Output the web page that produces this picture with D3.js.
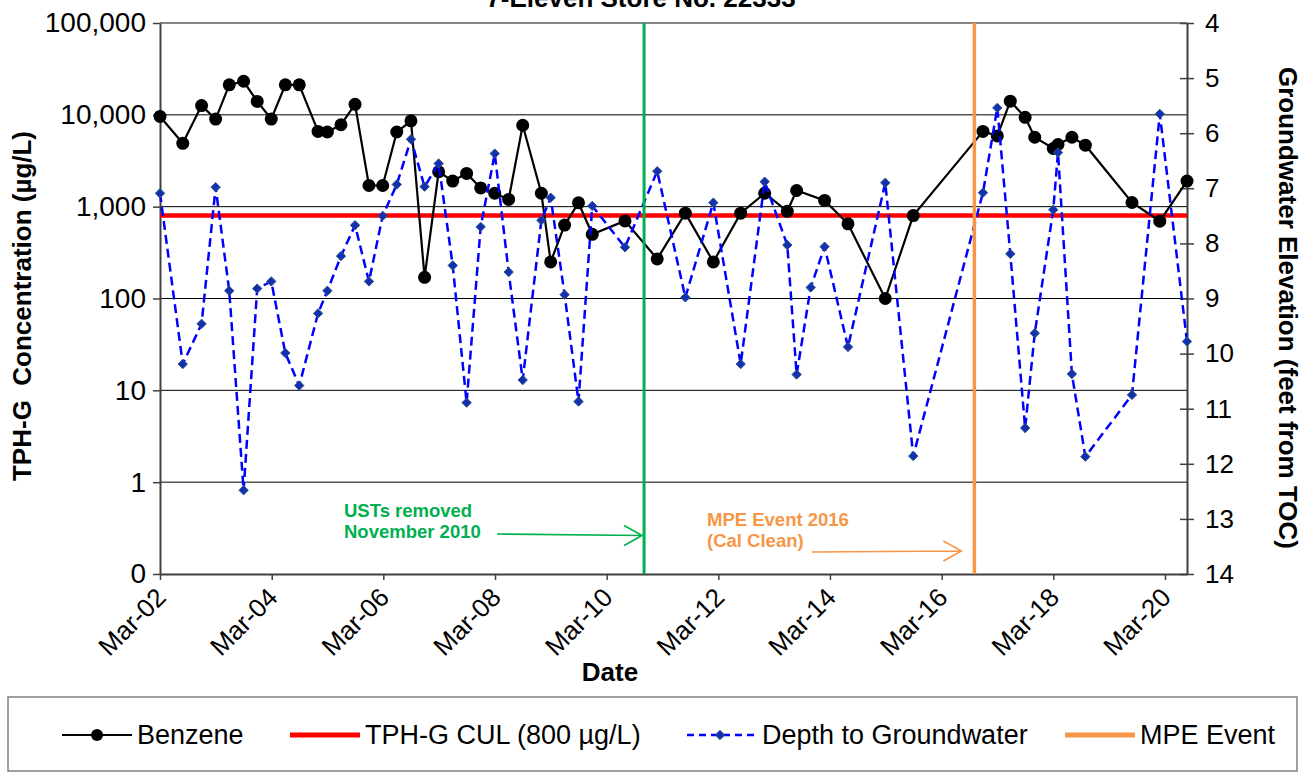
<!DOCTYPE html>
<html>
<head>
<meta charset="utf-8">
<script src="https://cdn.jsdelivr.net/npm/d3@7"></script>
<style>
  html, body { margin: 0; padding: 0; background: #fff; }
  svg { display: block; font-family: "Liberation Sans", Arial, sans-serif; }
</style>
</head>
<body>
<div id="chart"></div>
<script>
// sampling events (shared by both series)
const sampleDates = [
  '2002-03-01', '2002-07-28', '2002-11-28', '2003-02-28', '2003-05-28', '2003-08-30', '2003-11-27', '2004-02-27',
  '2004-05-29', '2004-08-28', '2004-12-29', '2005-02-28', '2005-05-28', '2005-08-28', '2005-11-27', '2006-02-25',
  '2006-05-28', '2006-08-29', '2006-11-26', '2007-02-26', '2007-05-29', '2007-08-28', '2007-11-28', '2008-02-28',
  '2008-05-29', '2008-08-29', '2008-12-29', '2009-02-28', '2009-05-30', '2009-08-29', '2009-11-27', '2010-06-29',
  '2011-01-26', '2011-07-29', '2012-01-28', '2012-07-25', '2012-12-29', '2013-05-26', '2013-07-26', '2013-10-26',
  '2014-01-25', '2014-06-27', '2015-02-26', '2015-08-28', '2016-11-26', '2017-02-28', '2017-05-24', '2017-08-29',
  '2017-10-31', '2018-03-01', '2018-04-01', '2018-07-01', '2018-09-27', '2019-07-29', '2020-01-27', '2020-07-23'
];

// concentration, ug/L (null = not sampled)
const benzene = [
  9600, 4900, 12600, 9000, 21200, 23200, 14000, 9000,
  21200, 21200, 6600, 6500, 7800, 13000, 1700, 1700,
  6500, 8600, 170, 2400, 1900, 2300, 1600, 1400,
  1200, 7700, 1400, 250, 630, 1100, 500, 700,
  270, 850, 250, 850, 1400, 890, 1500, null,
  1170, 650, 100, 800, 6600, 5900, 14100, 9400,
  5700, 4300, 4750, 5700, 4670, 1110, 695, 1900
];

// feet from TOC
const depthToWater = [
  7.09, 10.19, 9.46, 6.98, 8.86, 12.48, 8.82, 8.69,
  9.99, 10.58, 9.27, 8.86, 8.23, 7.67, 8.69, 7.50,
  6.93, 6.11, 6.97, 6.55, 8.40, 10.89, 7.70, 6.37,
  8.52, 10.48, 7.58, 7.17, 8.93, 10.87, 7.32, 8.07,
  6.69, 8.98, 7.26, 10.19, 6.88, 8.03, 10.38, 8.80,
  8.06, 9.88, 6.90, 11.86, 7.08, 5.54, 8.19, 11.35,
  9.63, 7.39, 6.35, 10.37, 11.87, 10.75, 5.65, 9.78
];

const culValue = 800;
const ustsRemovedDate = '2010-11-01';
const mpeEventDate = '2016-10-01';

const concTicks = [0.1, 1, 10, 100, 1000, 10000, 100000];
const depthTicks = [4, 5, 6, 7, 8, 9, 10, 11, 12, 13, 14];
const dateTicks = ['2002-03-01', '2004-03-01', '2006-03-01', '2008-03-01', '2010-03-01',
  '2012-03-01', '2014-03-01', '2016-03-01', '2018-03-01', '2020-03-01'];
const dateRange = ['2002-03-01', '2020-07-23'];

const width = 1303, height = 774;
const plot = { left: 160, right: 1187, top: 23, bottom: 574 };
const parse = d3.utcParse('%Y-%m-%d');

const svg = d3.select('#chart').append('svg')
  .attr('width', width)
  .attr('height', height);

const x = d3.scaleUtc()
  .domain(dateRange.map(parse))
  .range([plot.left, plot.right]);

const y = d3.scaleLog()
  .domain([0.1, 100000])
  .range([plot.bottom, plot.top]);

const y2 = d3.scaleLinear()
  .domain([4, 14])
  .range([plot.top, plot.bottom]);

// Grid lines
svg.append('g')
  .selectAll('line')
  .data(concTicks.slice(1))
  .enter()
  .append('line')
  .attr('x1', plot.left)
  .attr('x2', plot.right)
  .attr('y1', d => y(d))
  .attr('y2', d => y(d))
  .attr('stroke', d => d === 100000 ? '#868686' : '#000')
  .attr('stroke-width', d => d === 100000 ? 2 : 1);

// Left axis
const leftAxis = svg.append('g')
  .attr('transform', `translate(${plot.left},0)`)
  .call(d3.axisLeft(y)
    .tickValues(concTicks)
    .tickSize(7)
    .tickSizeOuter(0)
    .tickPadding(7)
    .tickFormat(d => d < 1 ? '0' : d3.format(',')(d)));
leftAxis.select('.domain').attr('stroke', '#404040').attr('stroke-width', 2);
leftAxis.selectAll('line').attr('stroke', '#404040').attr('stroke-width', 1.5);
leftAxis.selectAll('text')
  .attr('font-size', 28)
  .attr('font-family', '"Liberation Sans", Arial, sans-serif')
  .attr('fill', '#000');

// Right axis (cross ticks)
const rightAxis = svg.append('g')
  .attr('transform', `translate(${plot.right},0)`)
  .call(d3.axisRight(y2)
    .tickValues(depthTicks)
    .tickSize(7)
    .tickSizeOuter(0)
    .tickPadding(11));
rightAxis.select('.domain').attr('stroke', '#404040').attr('stroke-width', 2);
rightAxis.selectAll('line').attr('x1', -7).attr('x2', 7).attr('stroke', '#404040').attr('stroke-width', 1.5);
rightAxis.selectAll('text')
  .attr('font-size', 26)
  .attr('font-family', '"Liberation Sans", Arial, sans-serif')
  .attr('fill', '#000');

// Bottom axis
const bottomAxis = svg.append('g')
  .attr('transform', `translate(0,${plot.bottom})`)
  .call(d3.axisBottom(x)
    .tickValues(dateTicks.map(parse))
    .tickSize(6)
    .tickSizeOuter(0)
    .tickFormat(d3.utcFormat('%b-%y')));
bottomAxis.select('.domain').attr('stroke', '#404040').attr('stroke-width', 2);
bottomAxis.selectAll('line').attr('stroke', '#404040').attr('stroke-width', 1.5);
bottomAxis.selectAll('text')
  .attr('font-size', 26)
  .attr('font-family', '"Liberation Sans", Arial, sans-serif')
  .attr('fill', '#000')
  .attr('text-anchor', 'end')
  .attr('y', 0)
  .attr('dy', 0)
  .attr('transform', 'translate(7,25) rotate(-45)');

// CUL line
svg.append('line')
  .attr('x1', plot.left)
  .attr('x2', plot.right)
  .attr('y1', y(culValue))
  .attr('y2', y(culValue))
  .attr('stroke', '#ff0000')
  .attr('stroke-width', 4.5);

// Benzene
const benzeneData = sampleDates
  .map((d, i) => ({ date: parse(d), value: benzene[i] }))
  .filter(d => d.value != null);

const benzeneLine = d3.line()
  .x(d => x(d.date))
  .y(d => y(d.value));

svg.append('path')
  .datum(benzeneData)
  .attr('fill', 'none')
  .attr('stroke', '#000')
  .attr('stroke-width', 2.2)
  .attr('d', benzeneLine);

svg.append('g')
  .selectAll('circle')
  .data(benzeneData)
  .enter()
  .append('circle')
  .attr('cx', d => x(d.date))
  .attr('cy', d => y(d.value))
  .attr('r', 6.5)
  .attr('fill', '#000');

// Depth to groundwater
const depthData = sampleDates.map((d, i) => ({ date: parse(d), value: depthToWater[i] }));

const depthLine = d3.line()
  .x(d => x(d.date))
  .y(d => y2(d.value));

svg.append('path')
  .datum(depthData)
  .attr('fill', 'none')
  .attr('stroke', '#0000ff')
  .attr('stroke-width', 2.5)
  .attr('stroke-dasharray', '9,5')
  .attr('d', depthLine);

const diamond = d3.symbol().type(d3.symbolDiamond2).size(56);

svg.append('g')
  .selectAll('path')
  .data(depthData)
  .enter()
  .append('path')
  .attr('transform', d => `translate(${x(d.date)},${y2(d.value)})`)
  .attr('d', diamond)
  .attr('fill', '#1430b0')
  .attr('stroke', '#2c5a86')
  .attr('stroke-width', 1);

// Event lines
const ustsX = x(parse(ustsRemovedDate));
const mpeX = x(parse(mpeEventDate));

svg.append('line')
  .attr('x1', ustsX).attr('x2', ustsX)
  .attr('y1', plot.top).attr('y2', plot.bottom)
  .attr('stroke', '#00b050')
  .attr('stroke-width', 3);

svg.append('line')
  .attr('x1', mpeX).attr('x2', mpeX)
  .attr('y1', plot.top).attr('y2', plot.bottom)
  .attr('stroke', '#f79646')
  .attr('stroke-width', 3.5);

// Annotations
function annotate(lines, color, tx, ty, arrow) {
  const t = svg.append('text')
    .attr('x', tx)
    .attr('y', ty)
    .attr('font-size', 18.5)
    .attr('font-weight', 'bold')
    .attr('fill', color);
  lines.forEach((l, i) => {
    t.append('tspan').attr('x', tx).attr('dy', i === 0 ? 0 : 21).text(l);
  });
  const [x0, y0, x1, y1] = arrow;
  svg.append('path')
    .attr('d', `M${x0},${y0}L${x1},${y1}M${x1 - 18},${y1 - 10}L${x1},${y1}L${x1 - 18},${y1 + 10}`)
    .attr('fill', 'none')
    .attr('stroke', color)
    .attr('stroke-width', 1.6);
}

annotate(['USTs removed', 'November 2010'], '#00b050', 344, 517, [497, 534, ustsX - 2, 535.5]);
annotate(['MPE Event 2016', '(Cal Clean)'], '#f79646', 707, 526, [812, 552, mpeX - 13, 551]);

// Titles (the chart title is clipped at the top edge in the source image)
svg.append('text')
  .attr('x', 641)
  .attr('y', 7)
  .attr('text-anchor', 'middle')
  .attr('font-size', 26)
  .attr('font-weight', 'bold')
  .text('7-Eleven Store No. 22333');

svg.append('text')
  .attr('x', 610)
  .attr('y', 681)
  .attr('text-anchor', 'middle')
  .attr('font-size', 26)
  .attr('font-weight', 'bold')
  .text('Date');

svg.append('text')
  .attr('transform', 'translate(31,306) rotate(-90)')
  .attr('text-anchor', 'middle')
  .attr('font-size', 26)
  .attr('font-weight', 'bold')
  .style('white-space', 'pre')
  .text('TPH-G  Concentration (µg/L)');

svg.append('text')
  .attr('transform', 'translate(1279,308) rotate(90)')
  .attr('text-anchor', 'middle')
  .attr('font-size', 26)
  .attr('font-weight', 'bold')
  .text('Groundwater Elevation (feet from TOC)');

// Legend
const legend = svg.append('g');
legend.append('rect')
  .attr('x', 8)
  .attr('y', 697)
  .attr('width', 1289)
  .attr('height', 74)
  .attr('fill', '#fff')
  .attr('stroke', '#808080')
  .attr('stroke-width', 1.5);

const ly = 735;
const legendItems = [
  { label: 'Benzene', x0: 62, color: '#000', width: 2.2, dash: null, marker: 'circle' },
  { label: 'TPH-G CUL (800 µg/L)', x0: 290, color: '#ff0000', width: 5, dash: null, marker: null },
  { label: 'Depth to Groundwater', x0: 687, color: '#0000ff', width: 2.5, dash: '7,5', marker: 'diamond' },
  { label: 'MPE Event', x0: 1065, color: '#f79646', width: 5, dash: null, marker: null }
];

legendItems.forEach(item => {
  legend.append('line')
    .attr('x1', item.x0).attr('x2', item.x0 + 70)
    .attr('y1', ly).attr('y2', ly)
    .attr('stroke', item.color)
    .attr('stroke-width', item.width)
    .attr('stroke-dasharray', item.dash);
  if (item.marker === 'circle') {
    legend.append('circle')
      .attr('cx', item.x0 + 35).attr('cy', ly).attr('r', 6)
      .attr('fill', '#000');
  } else if (item.marker === 'diamond') {
    legend.append('path')
      .attr('transform', `translate(${item.x0 + 33},${ly})`)
      .attr('d', diamond)
      .attr('fill', '#1430b0')
      .attr('stroke', '#2c5a86');
  }
  legend.append('text')
    .attr('x', item.x0 + 75)
    .attr('y', ly)
    .attr('dy', '0.35em')
    .attr('font-size', 27)
    .text(item.label);
});
</script>
</body>
</html>
